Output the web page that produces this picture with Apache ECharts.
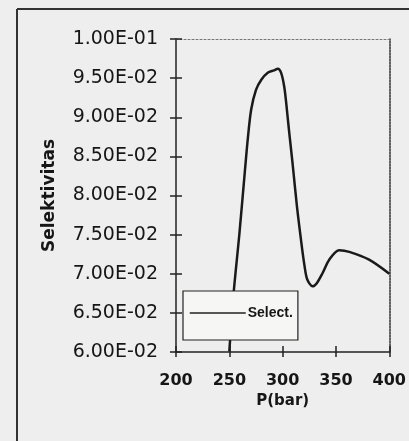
<!DOCTYPE html>
<html>
<head>
<meta charset="utf-8">
<script src="https://cdn.jsdelivr.net/npm/echarts@6/dist/echarts.min.js"></script>
<style>
html,body{margin:0;padding:0;background:#eeeeee;}
#c{width:409px;height:441px;}
</style>
</head>
<body>
<div id="c"></div>
<script>
// Data
const seriesName = 'Select.';
const pressure = [250, 254, 259.5, 264.5, 267.5, 270.5, 275, 280, 286, 292, 295.5, 298.5, 301.5, 303.5, 306.2, 309.3, 313.4, 317.5, 320.3, 323, 328, 332, 337.5, 343.7, 353, 362.5, 381, 400];
const selectivity = [0.0601, 0.0675, 0.0752, 0.0830, 0.0875, 0.0910, 0.0935, 0.0948, 0.0957, 0.0960, 0.0962, 0.0957, 0.0939, 0.0916, 0.0880, 0.0841, 0.0786, 0.0740, 0.0712, 0.0693, 0.0684, 0.0688, 0.0701, 0.0718, 0.0730, 0.0728, 0.0718, 0.0700];
const xTicks = {min: 200, max: 400, interval: 50};
const yTicks = {min: 0.06, max: 0.1, interval: 0.005};
const xTitle = 'P(bar)';
const yTitle = 'Selektivitas';

function fmtE(v) {
  const e = Math.floor(Math.log10(v) + 1e-9);
  const m = v / Math.pow(10, e);
  return m.toFixed(2) + 'E' + (e < 0 ? '-' : '+') + String(Math.abs(e)).padStart(2, '0');
}

const ink = '#161616';
const chart = echarts.init(document.getElementById('c'), null, {renderer: 'canvas'});
const hidden = {show: false};
const option = {
  backgroundColor: '#eeeeee',
  animation: false,
  grid: {left: 176, right: 19, top: 39, bottom: 89},
  legend: {
    data: [seriesName],
    left: 183, top: 291,
    padding: [15, 5, 20, 6],
    itemWidth: 56, itemHeight: 12, itemGap: 0,
    backgroundColor: '#f6f6f4',
    borderColor: '#222', borderWidth: 1.2, borderRadius: 0,
    itemStyle: {opacity: 0},
    lineStyle: {width: 1.5, color: '#222', opacity: 1},
    textStyle: {fontFamily: 'Liberation Sans', fontWeight: 'bold', fontSize: 14, color: ink, padding: [0, 0, 0, -3]}
  },
  xAxis: [
    {
      type: 'value', position: 'bottom', min: xTicks.min, max: xTicks.max, interval: xTicks.interval,
      name: xTitle, nameLocation: 'middle', nameGap: 38,
      nameTextStyle: {fontFamily: 'DejaVu Sans', fontWeight: 'bold', fontSize: 15, color: ink},
      axisLine: {show: true, lineStyle: {color: '#222', width: 1.5}},
      axisTick: {show: true, inside: false, length: 5, lineStyle: {color: '#222', width: 1.5}},
      axisLabel: {margin: 21, fontFamily: 'DejaVu Sans', fontWeight: 'bold', fontSize: 16, color: ink},
      splitLine: hidden
    },
    {
      type: 'value', position: 'bottom', min: xTicks.min, max: xTicks.max, interval: xTicks.interval,
      axisLine: hidden, axisLabel: hidden, splitLine: hidden,
      axisTick: {show: true, inside: true, length: 6, lineStyle: {color: '#222', width: 1.5}}
    },
    {
      type: 'value', position: 'top', min: xTicks.min, max: xTicks.max, interval: xTicks.interval,
      axisLine: {show: true, lineStyle: {color: '#777', width: 1, type: [2, 2]}},
      axisTick: hidden, axisLabel: hidden, splitLine: hidden
    }
  ],
  yAxis: [
    {
      type: 'value', position: 'left', min: yTicks.min, max: yTicks.max, interval: yTicks.interval,
      name: yTitle, nameLocation: 'middle', nameGap: 118, nameRotate: 90,
      nameTextStyle: {fontFamily: 'DejaVu Sans', fontWeight: 'bold', fontSize: 17, color: ink, padding: [0, 0, 0, 0]},
      axisLine: {show: true, lineStyle: {color: '#222', width: 1.5}},
      axisTick: {show: true, inside: false, length: 6, lineStyle: {color: '#222', width: 1.5}},
      axisLabel: {margin: 18, fontFamily: 'DejaVu Sans', fontSize: 19, color: ink, formatter: fmtE},
      splitLine: hidden
    },
    {
      type: 'value', position: 'left', min: yTicks.min, max: yTicks.max, interval: yTicks.interval,
      axisLine: hidden, axisLabel: hidden, splitLine: hidden,
      axisTick: {show: true, inside: true, length: 6, lineStyle: {color: '#222', width: 1.5}}
    },
    {
      type: 'value', position: 'right', min: yTicks.min, max: yTicks.max, interval: yTicks.interval,
      axisLine: {show: true, lineStyle: {color: '#333', width: 1.5, type: [2, 1]}},
      axisTick: hidden, axisLabel: hidden, splitLine: hidden
    }
  ],
  series: [{
    name: seriesName,
    type: 'line',
    xAxisIndex: 0, yAxisIndex: 0,
    data: pressure.map((p, i) => [p, selectivity[i]]),
    smooth: 0.3,
    symbol: 'none',
    showSymbol: false,
    lineStyle: {color: '#1a1a1a', width: 2.5},
    itemStyle: {color: '#1a1a1a'},
    z: 2
  }],
  graphic: [
    {type: 'line', shape: {x1: 17, y1: 9, x2: 17, y2: 441}, style: {stroke: '#333', lineWidth: 2}},
    {type: 'line', shape: {x1: 17, y1: 9, x2: 409, y2: 9}, style: {stroke: '#333', lineWidth: 2}}
  ]
};
chart.setOption(option);
</script>
</body>
</html>
